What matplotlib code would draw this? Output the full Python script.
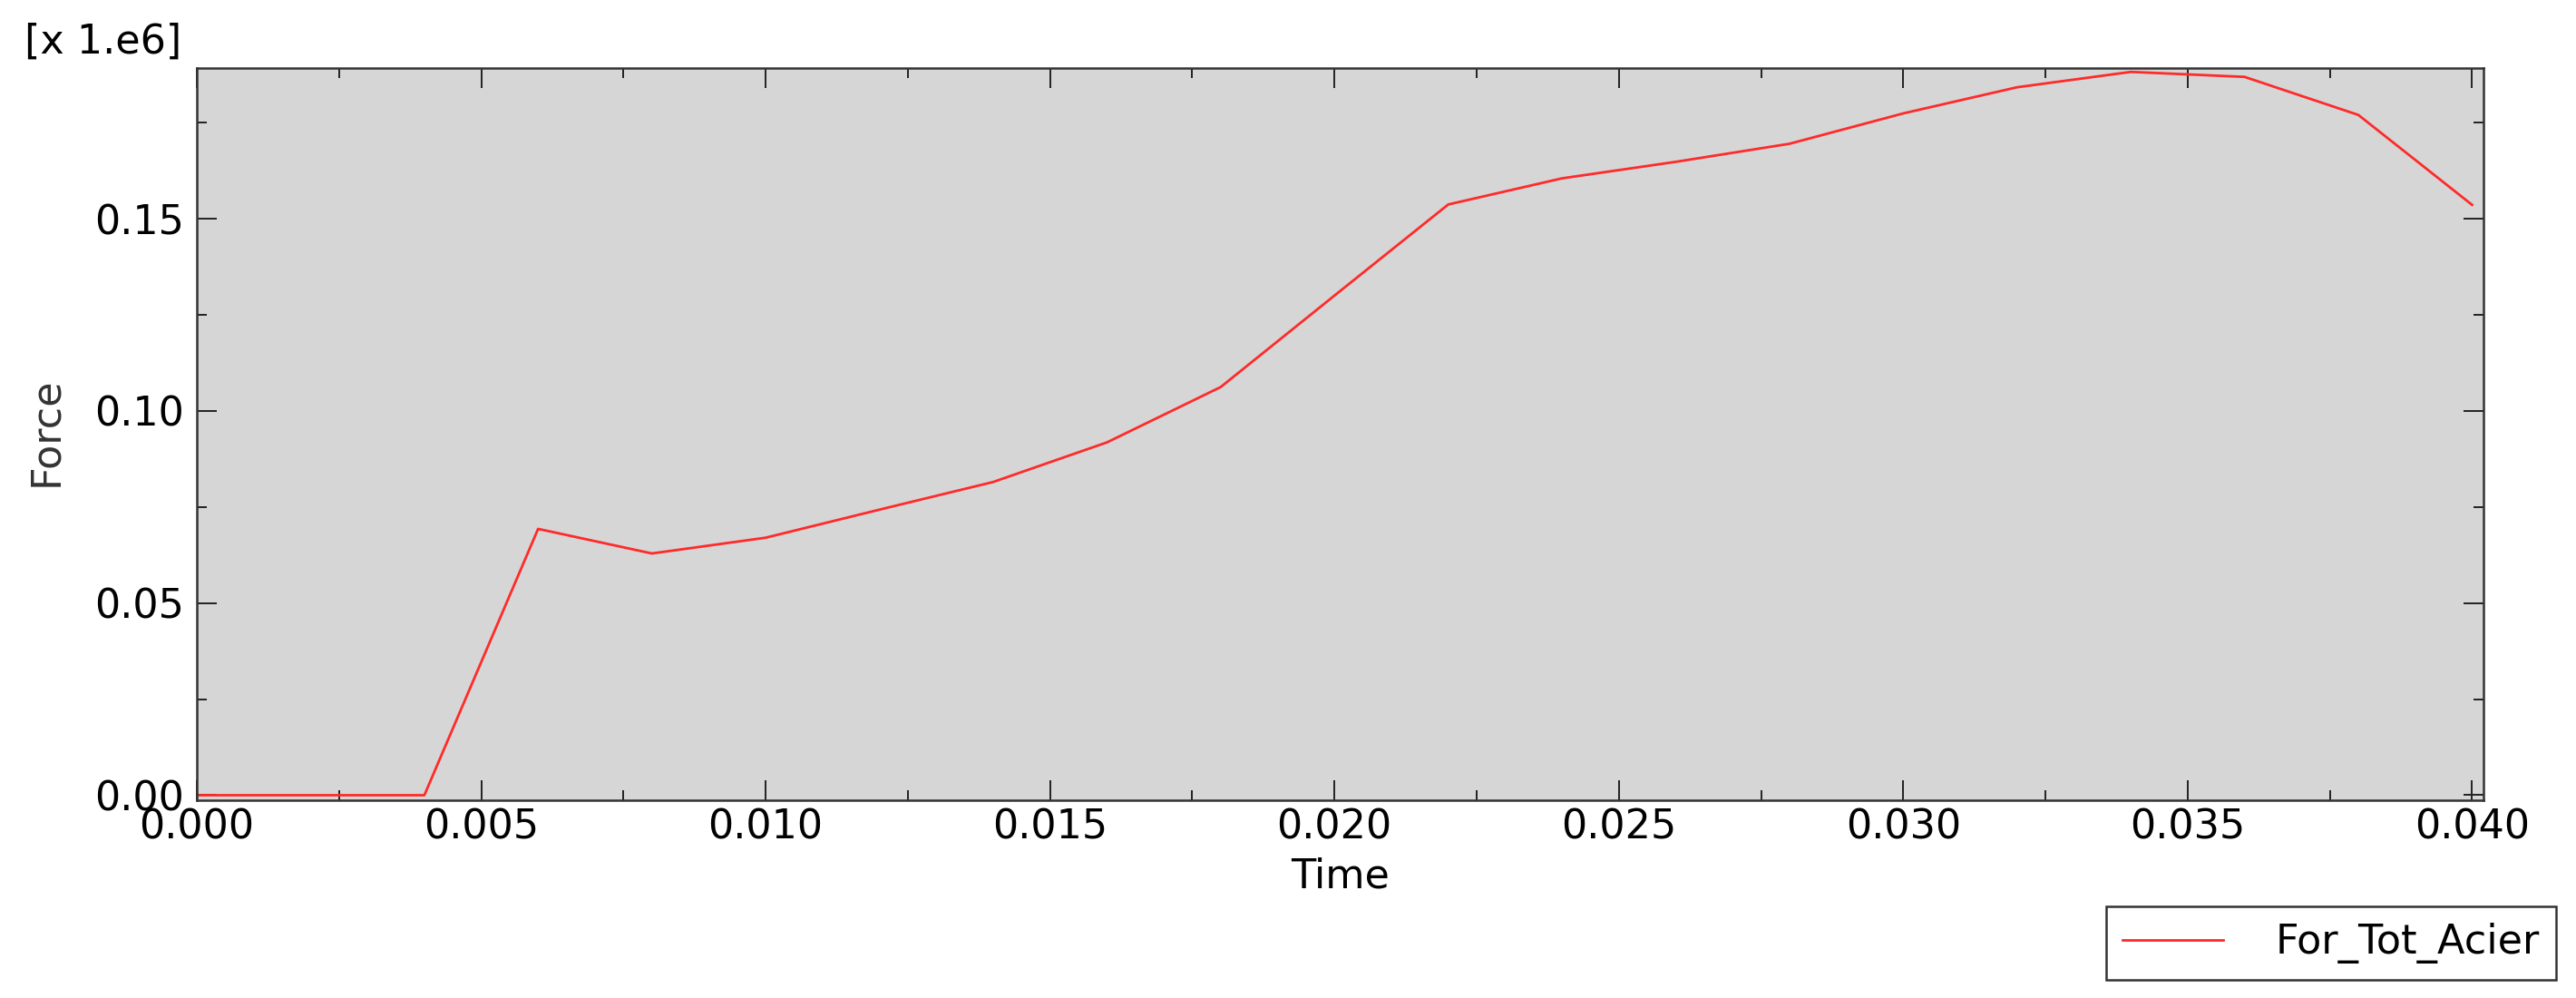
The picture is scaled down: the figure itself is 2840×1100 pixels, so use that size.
import matplotlib
matplotlib.use("Agg")
import matplotlib.pyplot as plt
from matplotlib.ticker import MultipleLocator, FormatStrFormatter

# values as shown on the plot (force in units of 1e6)
time = [0.000, 0.002, 0.004, 0.006, 0.008, 0.010, 0.012, 0.014, 0.016, 0.018, 0.020,
        0.022, 0.024, 0.026, 0.028, 0.030, 0.032, 0.034, 0.036, 0.038, 0.040]
force = [0.0, 0.0, 0.0, 0.0693, 0.0629, 0.0670, 0.0743, 0.0815, 0.0918, 0.1062, 0.1300,
         0.1537, 0.1605, 0.1648, 0.1695, 0.1774, 0.1842, 0.1882, 0.1869, 0.1770, 0.1536]
series_name = "For_Tot_Acier"
scale_text = "[x 1.e6]"

plt.rcParams['font.family'] = ['DejaVu Sans']
plt.rcParams['font.size'] = 16

fig = plt.figure(figsize=(14.2, 5.5), dpi=200)
ax = fig.add_axes([217 / 2840, 1 - 882 / 1100, (2738 - 217) / 2840, (882 - 75) / 1100])
ax.set_facecolor('#d6d6d6')

ax.plot(time, force, color='#ff2a2a', lw=1.0, label=series_name)

ax.set_xlim(0, 0.0402)
ax.set_ylim(-0.0013, 0.1892)

ax.xaxis.set_major_locator(MultipleLocator(0.005))
ax.xaxis.set_minor_locator(MultipleLocator(0.0025))
ax.yaxis.set_major_locator(MultipleLocator(0.05))
ax.yaxis.set_minor_locator(MultipleLocator(0.025))
ax.xaxis.set_major_formatter(FormatStrFormatter('%.3f'))
ax.yaxis.set_major_formatter(FormatStrFormatter('%.2f'))

ax.tick_params(which='both', direction='in', top=True, right=True, color='#222222', width=0.7)
ax.tick_params(which='major', length=7.9)
ax.tick_params(which='minor', length=4)
ax.tick_params(axis='x', pad=3, labelsize=16)
ax.tick_params(axis='y', pad=5, labelsize=16)

for sp in ax.spines.values():
    sp.set_color('#333333')
    sp.set_linewidth(0.9)

ax.set_xlabel('Time', fontsize=16, va='center')
ax.xaxis.set_label_coords(0.5, -0.104)
ax.set_ylabel('Force', fontsize=16, color='#333333', va='center')
ax.yaxis.set_label_coords(-0.0658, 0.504)

fig.text(27 / 2840, 1 - 46 / 1100, scale_text, fontsize=16, ha='left', va='center')

leg = ax.legend(loc='lower right', bbox_to_anchor=(2818 / 2840, 20 / 1100),
                bbox_transform=fig.transFigure, borderaxespad=0, fancybox=False,
                handlelength=2.5, handletextpad=1.3, borderpad=0.4, fontsize=16,
                framealpha=1)
leg.get_frame().set_edgecolor('#333333')
leg.get_frame().set_linewidth(0.9)

fig.savefig('out.png', dpi=200)
